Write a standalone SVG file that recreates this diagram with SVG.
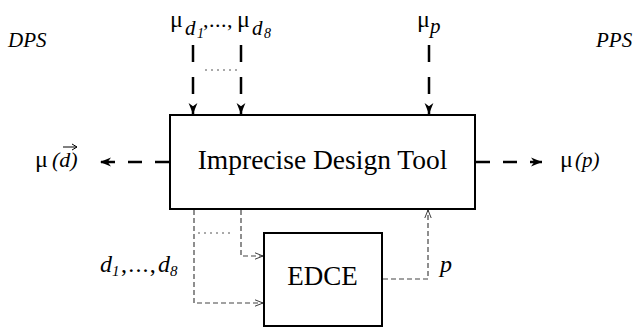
<svg xmlns="http://www.w3.org/2000/svg" width="637" height="328" viewBox="0 0 637 328">
<style>
text{font-family:"Liberation Serif","Times New Roman",serif;fill:#000}
.it{font-style:italic}
.box{fill:#fff;stroke:#000;stroke-width:2}
.thick{stroke:#000;stroke-width:2.5;fill:none}
.v{stroke-dasharray:17 15}
.h{stroke-dasharray:14 13}
.thin{stroke:#444;stroke-width:1.2;stroke-dasharray:5 3;fill:none}
.dot{stroke:#555;stroke-width:1;stroke-dasharray:2 4;fill:none}
</style>
<defs>
<marker id="ah" viewBox="0 0 10 10" refX="10" refY="5" markerWidth="11" markerHeight="11" markerUnits="userSpaceOnUse" orient="auto">
<path d="M0,1 L10,5 L0,9 L3,5 Z" fill="#000"/>
</marker>
<marker id="oa" viewBox="0 0 10 10" refX="10" refY="5" markerWidth="8" markerHeight="8" markerUnits="userSpaceOnUse" orient="auto">
<path d="M0,1 L10,5 L0,9" fill="none" stroke="#333" stroke-width="1.2"/>
</marker>
</defs>
<g id="connectors">
<path class="thick v" d="M193,45 V114" marker-end="url(#ah)"/>
<path class="thick v" d="M241,45 V114" marker-end="url(#ah)"/>
<path class="dot" d="M205,70 H238"/>
<path class="thick v" d="M429,45 V114" marker-end="url(#ah)"/>
<path class="thick h" d="M169,162 H100" marker-end="url(#ah)"/>
<path class="thick h" d="M476,162 H542" marker-end="url(#ah)"/>
<path class="thin" d="M194,210 V303 H263" marker-end="url(#oa)"/>
<path class="thin" d="M241,210 V256 H263" marker-end="url(#oa)"/>
<path class="dot" d="M198,233 H232"/>
<path class="thin" d="M383,279 H428 V210" marker-end="url(#oa)"/>
</g>
<g id="imprecise-design-tool">
<rect class="box" x="170" y="115" width="305" height="94"/>
<text x="322.5" y="169" font-size="27.5" text-anchor="middle">Imprecise Design Tool</text>
</g>
<g id="edce">
<rect class="box" x="264" y="233" width="118" height="93"/>
<text x="322.5" y="285" font-size="27" text-anchor="middle">EDCE</text>
</g>
<g id="labels">
<text class="it" x="8" y="47" font-size="21">DPS</text>
<text class="it" x="596" y="47" font-size="21">PPS</text>
<text x="170" y="27" font-size="24">μ</text>
<text class="it" x="185" y="35" font-size="21">d</text>
<text class="it" x="197" y="38" font-size="14">1</text>
<text x="203" y="27" font-size="22" letter-spacing="0.5">,...,</text>
<text x="237" y="27" font-size="24">μ</text>
<text class="it" x="252" y="35" font-size="21">d</text>
<text class="it" x="264" y="38" font-size="14">8</text>
<text x="417" y="27" font-size="24">μ</text>
<text class="it" x="430" y="33" font-size="21">p</text>
<text x="35" y="167" font-size="24">μ</text>
<text class="it" x="52" y="167" font-size="22">(d)</text>
<path d="M63,147 H77 M72,144 L77,147 L72,150" fill="none" stroke="#000" stroke-width="1"/>
<text x="560" y="167" font-size="24">μ</text>
<text class="it" x="575" y="167" font-size="21">(p)</text>
<text class="it" x="100" y="272" font-size="24">d</text>
<text class="it" x="112" y="276" font-size="15">1</text>
<text x="121" y="272" font-size="24" letter-spacing="1.2">,...,</text>
<text class="it" x="158" y="272" font-size="24">d</text>
<text class="it" x="170" y="276" font-size="15">8</text>
<text class="it" x="440" y="272" font-size="24">p</text>
</g>
</svg>
